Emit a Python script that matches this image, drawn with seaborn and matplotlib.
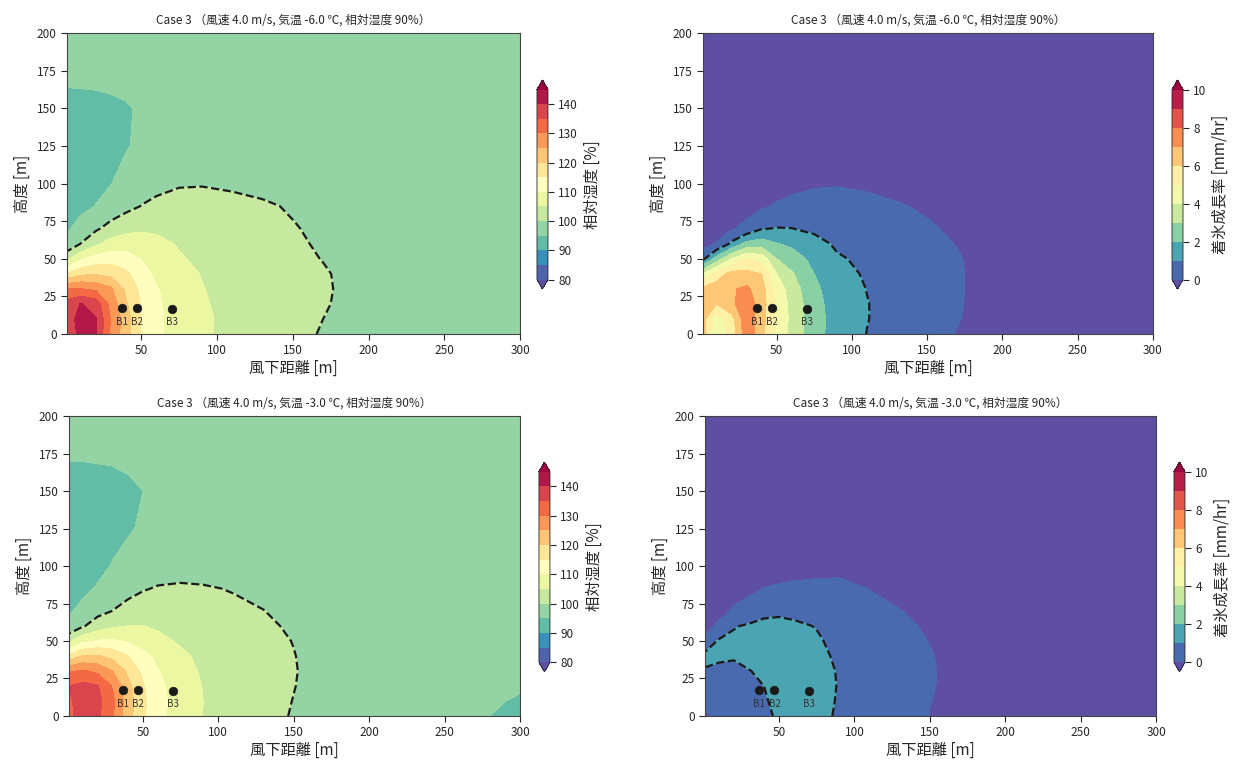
import numpy as np
import matplotlib
matplotlib.use('Agg')
import matplotlib.pyplot as plt
import seaborn as sns

# 格子点 [m]
x_m = [1, 10, 20, 30, 40, 50, 60, 75, 90, 110, 130, 150, 170, 200, 250, 300]
z_m = [0, 10, 20, 30, 40, 50, 60, 70, 85, 100, 125, 150, 165, 200]

# 相対湿度 [%]  気温 -6.0℃  (行 = 高度, 列 = 風下距離)
rh_m6 = [
    [136.5, 141.5, 140.2, 129.0, 122.0, 114.6, 110.8, 108.0, 105.7, 103.8, 102.3, 101.1, 99.7, 98.3, 97, 97],
    [137.5, 142.0, 140.3, 129.5, 122.5, 115.0, 111.0, 108.0, 105.8, 103.8, 102.4, 101.2, 100.0, 98.4, 97, 97],
    [137.0, 140.2, 138.0, 128.0, 120.5, 114.5, 110.8, 107.8, 105.5, 103.6, 102.3, 101.3, 100.3, 98.5, 97, 97],
    [130.3, 130.2, 129.0, 125.8, 119.0, 113.7, 110.3, 107.5, 105.2, 103.4, 102.2, 101.3, 100.4, 98.6, 97, 97],
    [115.5, 119.0, 119.5, 118.5, 116.0, 112.0, 109.0, 106.7, 104.8, 103.1, 102.0, 101.1, 100.3, 98.6, 97, 97],
    [104.0, 109.0, 112.0, 113.0, 112.0, 109.8, 107.6, 105.5, 104.0, 102.7, 101.7, 100.8, 99.9, 98.5, 97, 97],
    [96.0, 100.1, 104.0, 107.0, 108.0, 107.5, 106.3, 104.6, 103.3, 102.2, 101.3, 100.5, 99.6, 98.4, 97, 97],
    [94.5, 96.5, 99.3, 101.8, 103.5, 104.3, 104.2, 103.5, 102.7, 101.8, 101.0, 100.2, 99.4, 98.3, 97, 97],
    [93.2, 94.0, 95.1, 96.8, 98.6, 100.1, 100.8, 101.3, 101.3, 100.9, 100.4, 99.7, 99.1, 98.1, 97, 97],
    [92.5, 93.2, 94.1, 94.9, 96.6, 98.0, 99.0, 99.7, 99.8, 99.5, 99.1, 98.7, 98.3, 97.8, 97, 97],
    [92.3, 92.6, 93.1, 93.8, 94.7, 95.8, 96.5, 96.9, 97.1, 97.2, 97.2, 97.1, 97.1, 97.0, 97, 97],
    [92.8, 93.0, 93.4, 94.0, 94.6, 95.5, 96.2, 96.7, 96.9, 97.0, 97.0, 97.0, 97.0, 97.0, 97, 97],
    [95.2, 95.3, 95.4, 95.6, 95.9, 96.3, 96.6, 96.9, 97.0, 97.0, 97.0, 97.0, 97.0, 97.0, 97, 97],
    [97.0, 97.0, 97.0, 97.0, 97.0, 97.0, 97.0, 97.0, 97.0, 97.0, 97.0, 97.0, 97.0, 97.0, 97, 97],
]

# 相対湿度 [%]  気温 -3.0℃
rh_m3 = [
    [133.5, 137.5, 136.0, 130.5, 122.0, 115.8, 111.5, 107.6, 104.9, 103.0, 101.3, 99.7, 98.3, 97.5, 96.5, 94.0],
    [134.0, 138.0, 136.5, 131.0, 122.5, 116.0, 111.6, 107.7, 105.0, 103.1, 101.5, 99.9, 98.5, 97.6, 96.7, 94.6],
    [135.0, 136.5, 135.3, 129.5, 121.5, 115.5, 111.2, 107.5, 104.8, 103.0, 101.5, 100.1, 98.6, 97.6, 97.0, 95.4],
    [129.5, 130.5, 129.0, 125.0, 119.0, 113.8, 110.2, 106.8, 104.4, 102.7, 101.4, 100.2, 98.7, 97.6, 97.0, 96.0],
    [116.0, 120.5, 120.5, 118.5, 115.0, 111.5, 108.7, 105.9, 103.9, 102.4, 101.3, 100.1, 98.7, 97.6, 97.0, 96.5],
    [104.0, 108.5, 110.5, 110.8, 109.5, 107.8, 106.3, 104.4, 103.0, 101.9, 101.0, 99.9, 98.6, 97.6, 97.0, 96.8],
    [96.0, 99.5, 102.5, 104.3, 105.1, 105.1, 104.3, 103.3, 102.3, 101.4, 100.6, 99.5, 98.5, 97.6, 97.0, 97.0],
    [94.5, 96.2, 98.5, 100.1, 101.5, 102.2, 102.3, 101.9, 101.3, 100.7, 100.05, 99.1, 98.3, 97.5, 97.0, 97.0],
    [93.0, 94.0, 95.4, 97.0, 98.6, 99.7, 100.3, 100.5, 100.3, 99.8, 99.2, 98.5, 98.0, 97.4, 97.0, 97.0],
    [92.3, 92.9, 93.8, 95.3, 96.6, 97.5, 98.1, 98.5, 98.5, 98.3, 98.0, 97.7, 97.5, 97.2, 97.0, 97.0],
    [92.0, 92.3, 92.8, 93.5, 94.5, 95.6, 96.3, 96.8, 97.0, 97.0, 97.0, 97.0, 97.0, 97.0, 97.0, 97.0],
    [92.3, 92.5, 92.9, 93.4, 94.1, 95.0, 95.9, 96.6, 96.9, 97.0, 97.0, 97.0, 97.0, 97.0, 97.0, 97.0],
    [94.7, 94.7, 94.8, 94.9, 95.3, 96.0, 96.5, 96.8, 97.0, 97.0, 97.0, 97.0, 97.0, 97.0, 97.0, 97.0],
    [97.0, 97.0, 97.0, 97.0, 97.0, 97.0, 97.0, 97.0, 97.0, 97.0, 97.0, 97.0, 97.0, 97.0, 97.0, 97.0],
]

# 着氷成長率 [mm/hr]  気温 -6.0℃
ice_m6 = [
    [6.3, 4.3, 5.3, 7.7, 6.3, 4.7, 3.7, 2.3, 1.65, 0.98, 0.6, 0.25, -0.03, -0.3, -0.5, -0.5],
    [6.4, 4.4, 5.6, 7.7, 6.4, 4.8, 3.75, 2.35, 1.65, 1.03, 0.62, 0.28, 0.03, -0.3, -0.5, -0.5],
    [6.5, 6.0, 6.8, 7.6, 6.5, 4.8, 3.7, 2.3, 1.6, 1.03, 0.63, 0.3, 0.05, -0.3, -0.5, -0.5],
    [6.2, 6.6, 6.9, 7.2, 6.4, 4.6, 3.5, 2.2, 1.5, 0.98, 0.6, 0.3, 0.06, -0.3, -0.5, -0.5],
    [4.0, 5.4, 6.4, 6.3, 6.0, 4.0, 3.1, 2.0, 1.3, 0.9, 0.55, 0.28, 0.06, -0.3, -0.5, -0.5],
    [0.8, 2.4, 4.0, 5.0, 4.6, 3.0, 2.5, 1.7, 1.12, 0.78, 0.45, 0.22, 0.04, -0.3, -0.5, -0.5],
    [-0.4, 0.05, 1.2, 2.3, 2.5, 2.05, 1.8, 1.35, 0.85, 0.65, 0.35, 0.15, -0.02, -0.35, -0.5, -0.5],
    [-0.5, -0.35, -0.1, 0.3, 0.95, 1.05, 1.02, 0.8, 0.6, 0.5, 0.22, 0.07, -0.1, -0.4, -0.5, -0.5],
    [-0.5, -0.5, -0.5, -0.4, -0.15, 0.1, 0.25, 0.35, 0.3, 0.25, 0.05, -0.08, -0.25, -0.45, -0.5, -0.5],
    [-0.5, -0.5, -0.5, -0.5, -0.5, -0.45, -0.25, -0.1, -0.05, -0.15, -0.2, -0.3, -0.4, -0.5, -0.5, -0.5],
    [-0.5] * 16,
    [-0.5] * 16,
    [-0.5] * 16,
    [-0.5] * 16,
]

# 着氷成長率 [mm/hr]  気温 -3.0℃
ice_m3 = [
    [-0.3, 0.35, 0.55, 0.75, 0.88, 1.08, 1.2, 1.18, 0.92, 0.6, 0.35, -0.02, -0.3, -0.4, -0.5, -0.5],
    [0.55, 0.5, 0.65, 0.82, 0.95, 1.12, 1.22, 1.2, 0.95, 0.62, 0.37, 0.02, -0.25, -0.4, -0.5, -0.5],
    [0.75, 0.65, 0.8, 0.9, 1.0, 1.15, 1.25, 1.2, 0.97, 0.63, 0.38, 0.05, -0.2, -0.4, -0.5, -0.5],
    [0.92, 0.85, 0.95, 0.98, 1.1, 1.2, 1.25, 1.18, 0.96, 0.62, 0.37, 0.06, -0.2, -0.4, -0.5, -0.5],
    [1.25, 1.12, 1.02, 1.15, 1.2, 1.25, 1.22, 1.12, 0.92, 0.58, 0.33, 0.04, -0.22, -0.4, -0.5, -0.5],
    [0.35, 1.1, 1.15, 1.2, 1.25, 1.25, 1.18, 1.06, 0.86, 0.5, 0.25, -0.02, -0.25, -0.4, -0.5, -0.5],
    [-0.4, 0.2, 0.95, 1.08, 1.15, 1.15, 1.08, 0.98, 0.78, 0.4, 0.15, -0.1, -0.3, -0.45, -0.5, -0.5],
    [-0.5, -0.35, 0.12, 0.55, 0.85, 0.9, 0.88, 0.8, 0.62, 0.25, 0.02, -0.2, -0.35, -0.5, -0.5, -0.5],
    [-0.5, -0.5, -0.4, -0.3, 0.02, 0.1, 0.15, 0.2, 0.18, -0.02, -0.2, -0.35, -0.45, -0.5, -0.5, -0.5],
    [-0.5, -0.5, -0.5, -0.45, -0.4, -0.35, -0.3, -0.25, -0.2, -0.35, -0.45, -0.5, -0.5, -0.5, -0.5, -0.5],
    [-0.5] * 16,
    [-0.5] * 16,
    [-0.5] * 16,
    [-0.5] * 16,
]

# 建物位置
bldg_names = ['B1', 'B2', 'B3']
bldg_x = [37, 47, 70]
bldg_z = [17, 17, 16.5]

titles = ['Case 3 （風速 4.0 m/s, 気温 -6.0 ℃, 相対湿度 90%）',
          'Case 3 （風速 4.0 m/s, 気温 -3.0 ℃, 相対湿度 90%）']

sns.set_theme(style='ticks')
plt.rcParams['font.family'] = ['Noto Sans CJK JP', 'DejaVu Sans']
plt.rcParams['axes.unicode_minus'] = False

cmap = sns.color_palette('Spectral_r', as_cmap=True)
X, Z = np.meshgrid(x_m, z_m)

fig = plt.figure(figsize=(12.35, 7.6), dpi=100)

# 軸位置 (left, bottom, width, height)
ax_pos = {
    (0, 0): [0.0543, 0.5605, 0.3668, 0.396],
    (0, 1): [0.5692, 0.5605, 0.3644, 0.396],
    (1, 0): [0.0559, 0.0579, 0.3652, 0.3947],
    (1, 1): [0.5709, 0.0579, 0.3652, 0.3947],
}
cax_pos = {
    (0, 0): [0.4348, 0.6197, 0.0089, 0.275],
    (0, 1): [0.9490, 0.6197, 0.0089, 0.275],
    (1, 0): [0.4364, 0.1160, 0.0089, 0.276],
    (1, 1): [0.9506, 0.1160, 0.0089, 0.276],
}

fields = {(0, 0): rh_m6, (0, 1): ice_m6, (1, 0): rh_m3, (1, 1): ice_m3}

for (r, c), data in fields.items():
    ax = fig.add_axes(ax_pos[(r, c)])
    cax = fig.add_axes(cax_pos[(r, c)])
    V = np.array(data)
    if c == 0:
        levels = np.arange(80, 146, 5)
        dash = [100]
        ticks = np.arange(80, 141, 10)
        clabel = '相対湿度 [%]'
    else:
        levels = np.arange(0, 11, 1)
        dash = [1]
        ticks = np.arange(0, 11, 2)
        clabel = '着氷成長率 [mm/hr]'
    cf = ax.contourf(X, Z, V, levels=levels, cmap=cmap, extend='both')
    ax.contour(X, Z, V, levels=dash, colors='k', linestyles='--', linewidths=1.6)

    sns.scatterplot(x=bldg_x, y=bldg_z, color='k', s=38, edgecolor='k',
                    ax=ax, legend=False, zorder=5)
    for name, bx in zip(bldg_names, bldg_x):
        ax.text(bx, 8.3, name, ha='center', va='center', fontsize=7, color='#333333')

    ax.set_xlim(1, 300)
    ax.set_ylim(0, 200)
    ax.set_xticks([50, 100, 150, 200, 250, 300])
    ax.set_yticks(np.arange(0, 201, 25))
    ax.tick_params(labelsize=8.5, length=4, width=0.8)
    for sp in ax.spines.values():
        sp.set_linewidth(0.8)
        sp.set_color('#444444')
    ax.set_xlabel('風下距離 [m]', fontsize=11, labelpad=2)
    ax.set_ylabel('高度 [m]', fontsize=11, labelpad=4)
    ax.set_title(titles[r], fontsize=8.5, pad=7)

    cb = fig.colorbar(cf, cax=cax, ticks=ticks)
    cb.set_label(clabel, fontsize=11)
    cb.ax.tick_params(labelsize=8.5, length=4, width=0.8)
    cb.outline.set_linewidth(0.6)

fig.savefig('out.png', dpi=100)
